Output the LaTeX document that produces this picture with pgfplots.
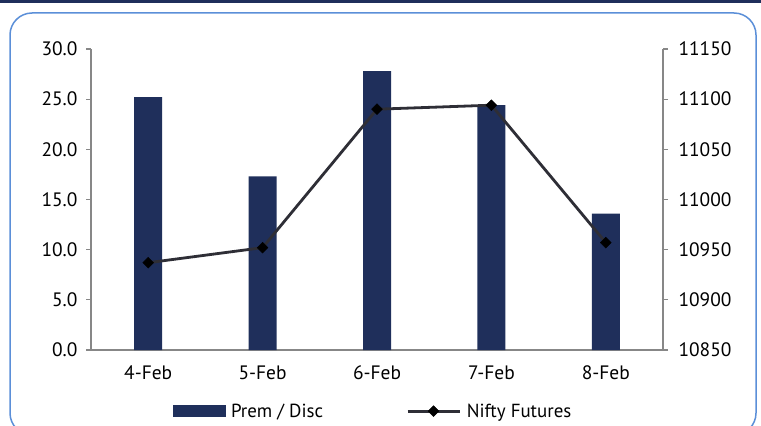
\documentclass[border=0pt]{standalone}
\usepackage{pgfplots}
\pgfplotsset{compat=1.18}
\usepackage{fontspec}
\setmainfont{PT Sans}

\definecolor{navy}{HTML}{1F2F5B}
\definecolor{linegray}{HTML}{2E2E36}
\definecolor{axisgray}{HTML}{878787}
\definecolor{frameblue}{HTML}{5B8FD8}

\pgfplotsset{
  common/.style={
    at={(91bp,75bp)}, anchor=south west,
    scale only axis, width=572bp, height=301bp,
    xmin=-0.5, xmax=4.5,
    axis line style={axisgray, line width=1.2bp, -},
    tick align=outside, major tick length=5bp,
    ytick style={axisgray, line width=1.2bp},
    ticklabel style={font=\fontsize{19.5}{22}\selectfont},
    /pgf/number format/assume math mode=true,
  },
  longline legend/.style={
    legend image code/.code={
      \draw[mark repeat=2,mark phase=2,##1] plot coordinates {(0bp,0bp) (26bp,0bp) (52bp,0bp)};
      \path (-3bp,0bp) (56bp,0bp);}
  },
  block legend/.style={
    legend image code/.code={\fill[navy] (0bp,-5.5bp) rectangle (52bp,5.5bp);
      \path (56bp,0bp);}
  },
}

\begin{document}
\begin{tikzpicture}[x=1bp,y=1bp]
\useasboundingbox (0,0) rectangle (761,425);
\fill[navy] (0,421.5) rectangle (761,425);
\draw[frameblue, line width=1.5bp, rounded corners=22bp] (10,-10) rectangle (756,412);

\begin{axis}[common,
    ymin=0, ymax=30,
    axis x line*=bottom, axis y line*=left,
    xtick={0,...,4}, xticklabels={4-Feb,5-Feb,6-Feb,7-Feb,8-Feb},
    xtick style={draw=none},
    xticklabel style={yshift=-7bp},
    ytick={0,5,...,30},
    yticklabel style={xshift=-5bp, /pgf/number format/fixed, /pgf/number format/fixed zerofill,
      /pgf/number format/precision=1},
    ybar, bar width=28bp,
]
\addplot[fill=navy, draw=none] coordinates {(0,25.2) (1,17.3) (2,27.8) (3,24.4) (4,13.6)};
\end{axis}

\begin{axis}[common,
    ymin=10850, ymax=11150,
    axis x line=none, axis y line*=right,
    ytick={10850,10900,...,11150},
    scaled y ticks=false,
    yticklabel style={xshift=7bp, /pgf/number format/fixed, /pgf/number format/1000 sep={}},
    legend columns=2,
    legend style={draw=none, fill=none, at={(0.493,-0.203)}, anchor=center,
      font=\fontsize{19}{21}\selectfont,
      /tikz/every even column/.append style={column sep=78bp}},
]
\addlegendimage{block legend}
\addlegendentry{Prem / Disc}
\addplot[linegray, line width=2.8bp, mark=square*, mark size=3.8bp,
  mark options={fill=black, draw=black, rotate=45, line width=0.5bp},
  longline legend]
  coordinates {(0,10937) (1,10952) (2,11090) (3,11094) (4,10957)};
\addlegendentry{Nifty Futures}
\end{axis}
\end{tikzpicture}
\end{document}
